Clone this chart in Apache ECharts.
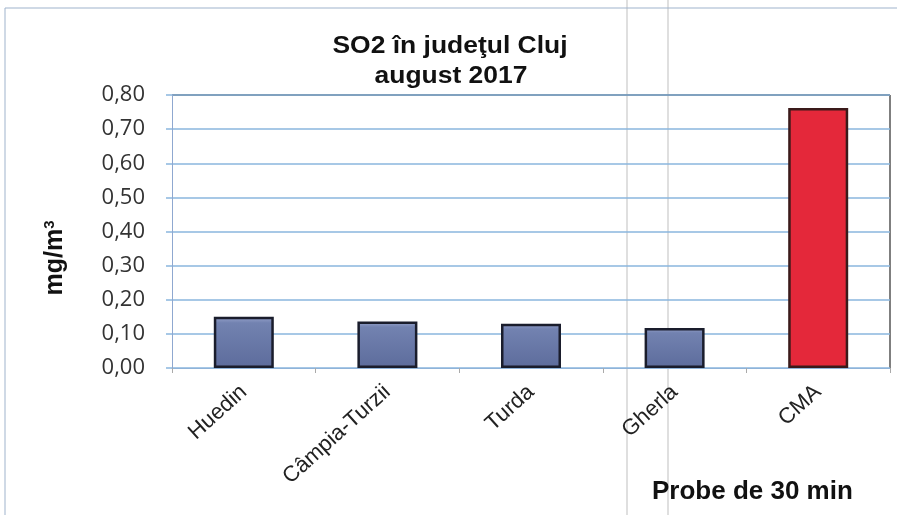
<!DOCTYPE html>
<html><head><meta charset="utf-8">
<script src="https://cdn.jsdelivr.net/npm/echarts@6/dist/echarts.min.js"></script>
<style>html,body{margin:0;padding:0;background:#fff}#c{width:897px;height:515px}</style>
</head><body><div id="c"></div>
<script>
const categories = ["Huedin", "Câmpia-Turzii", "Turda", "Gherla", "CMA"];
const values = [0.15, 0.136, 0.13, 0.117, 0.762];
const barColors = ["#6f7fae", "#6f7fae", "#6f7fae", "#6f7fae", "#e4283a"];
const titleLines = ["SO2 în judeţul Cluj", "august 2017"];
const yAxisUnit = ["mg/m", "3"];
const xAxisName = "Probe de 30 min";

const chart = echarts.init(document.getElementById('c'));
chart.setOption({
  animation: false,
  backgroundColor: '#fff',
  grid: { left: 172, right: 7, top: 95, bottom: 147 },
  xAxis: {
    type: 'category', data: categories,
    axisLine: { show: true, lineStyle: { color: '#8fb3d9', width: 1 } },
    axisTick: { show: true, length: 5, lineStyle: { color: '#aaa' } },
    axisLabel: { rotate: 42, margin: 21, fontFamily: 'Liberation Sans, Arial', fontSize: 22, color: '#222' }
  },
  yAxis: {
    type: 'value', min: 0, max: 0.8, interval: 0.1,
    axisLine: { show: true, lineStyle: { color: '#8fa8d0' } },
    axisTick: { show: true, length: 6, lineStyle: { color: '#8ab6de', width: 1.5 } },
    axisLabel: { formatter: v => v.toFixed(2).replace('.', ','), fontFamily: 'Open Sans, DejaVu Sans', fontSize: 22, color: '#333', margin: 27 },
    splitLine: { lineStyle: { color: '#8ab6de', width: 1.5 } }
  },
  series: [{
    type: 'bar', barWidth: 60,
    data: values.map((v, i) => ({
      value: v,
      itemStyle: {
        color: i < 4 ? new echarts.graphic.LinearGradient(0, 0, 0, 1, [
          { offset: 0, color: '#98a4cc' }, { offset: 0.12, color: '#7282b0' }, { offset: 1, color: '#5d6c9c' }]) : barColors[i],
        borderColor: i < 4 ? '#1a1d2c' : '#3a1a1a', borderWidth: 2.5
      }
    }))
  }],
  graphic: [
    { type: 'line', silent: true, shape: { x1: 627, y1: 0, x2: 627, y2: 515 }, style: { stroke: '#d4d4d4', lineWidth: 1.5 } },
    { type: 'line', silent: true, shape: { x1: 668, y1: 0, x2: 668, y2: 515 }, style: { stroke: '#d4d4d4', lineWidth: 1.5 } },
    { type: 'line', shape: { x1: 172, y1: 95, x2: 890, y2: 95 }, style: { stroke: '#333', lineWidth: 1.5 } },
    { type: 'line', shape: { x1: 890, y1: 95, x2: 890, y2: 368 }, style: { stroke: '#555', lineWidth: 1.5 } },
    { type: 'line', shape: { x1: 5, y1: 8, x2: 5, y2: 515 }, style: { stroke: '#9fb3cc', lineWidth: 1 } },
    { type: 'line', shape: { x1: 5, y1: 8, x2: 897, y2: 8 }, style: { stroke: '#9fb3cc', lineWidth: 1 } },
    { type: 'text', x: 450, y: 47, scaleX: 1.15,
      style: { text: titleLines[0], align: 'center', verticalAlign: 'middle', font: 'bold 23px Liberation Sans, Arial', fill: '#111' } },
    { type: 'text', x: 451, y: 77, scaleX: 1.15,
      style: { text: titleLines[1], align: 'center', verticalAlign: 'middle', font: 'bold 23px Liberation Sans, Arial', fill: '#111' } },
    { type: 'text', x: 55, y: 258, rotation: Math.PI / 2,
      style: { text: '{a|' + yAxisUnit[0] + '}{b|' + yAxisUnit[1] + '}', align: 'center', verticalAlign: 'middle',
        rich: { a: { font: 'bold 25px Liberation Sans, Arial', fill: '#111' },
                b: { font: 'bold 15px Liberation Sans, Arial', fill: '#111', verticalAlign: 'top', padding: [0, 0, 10, 0] } } } },
    { type: 'text', left: 652, top: 479, style: { text: xAxisName, font: 'bold 26px Liberation Sans, Arial', fill: '#111' } }
  ]
});
</script></body></html>
